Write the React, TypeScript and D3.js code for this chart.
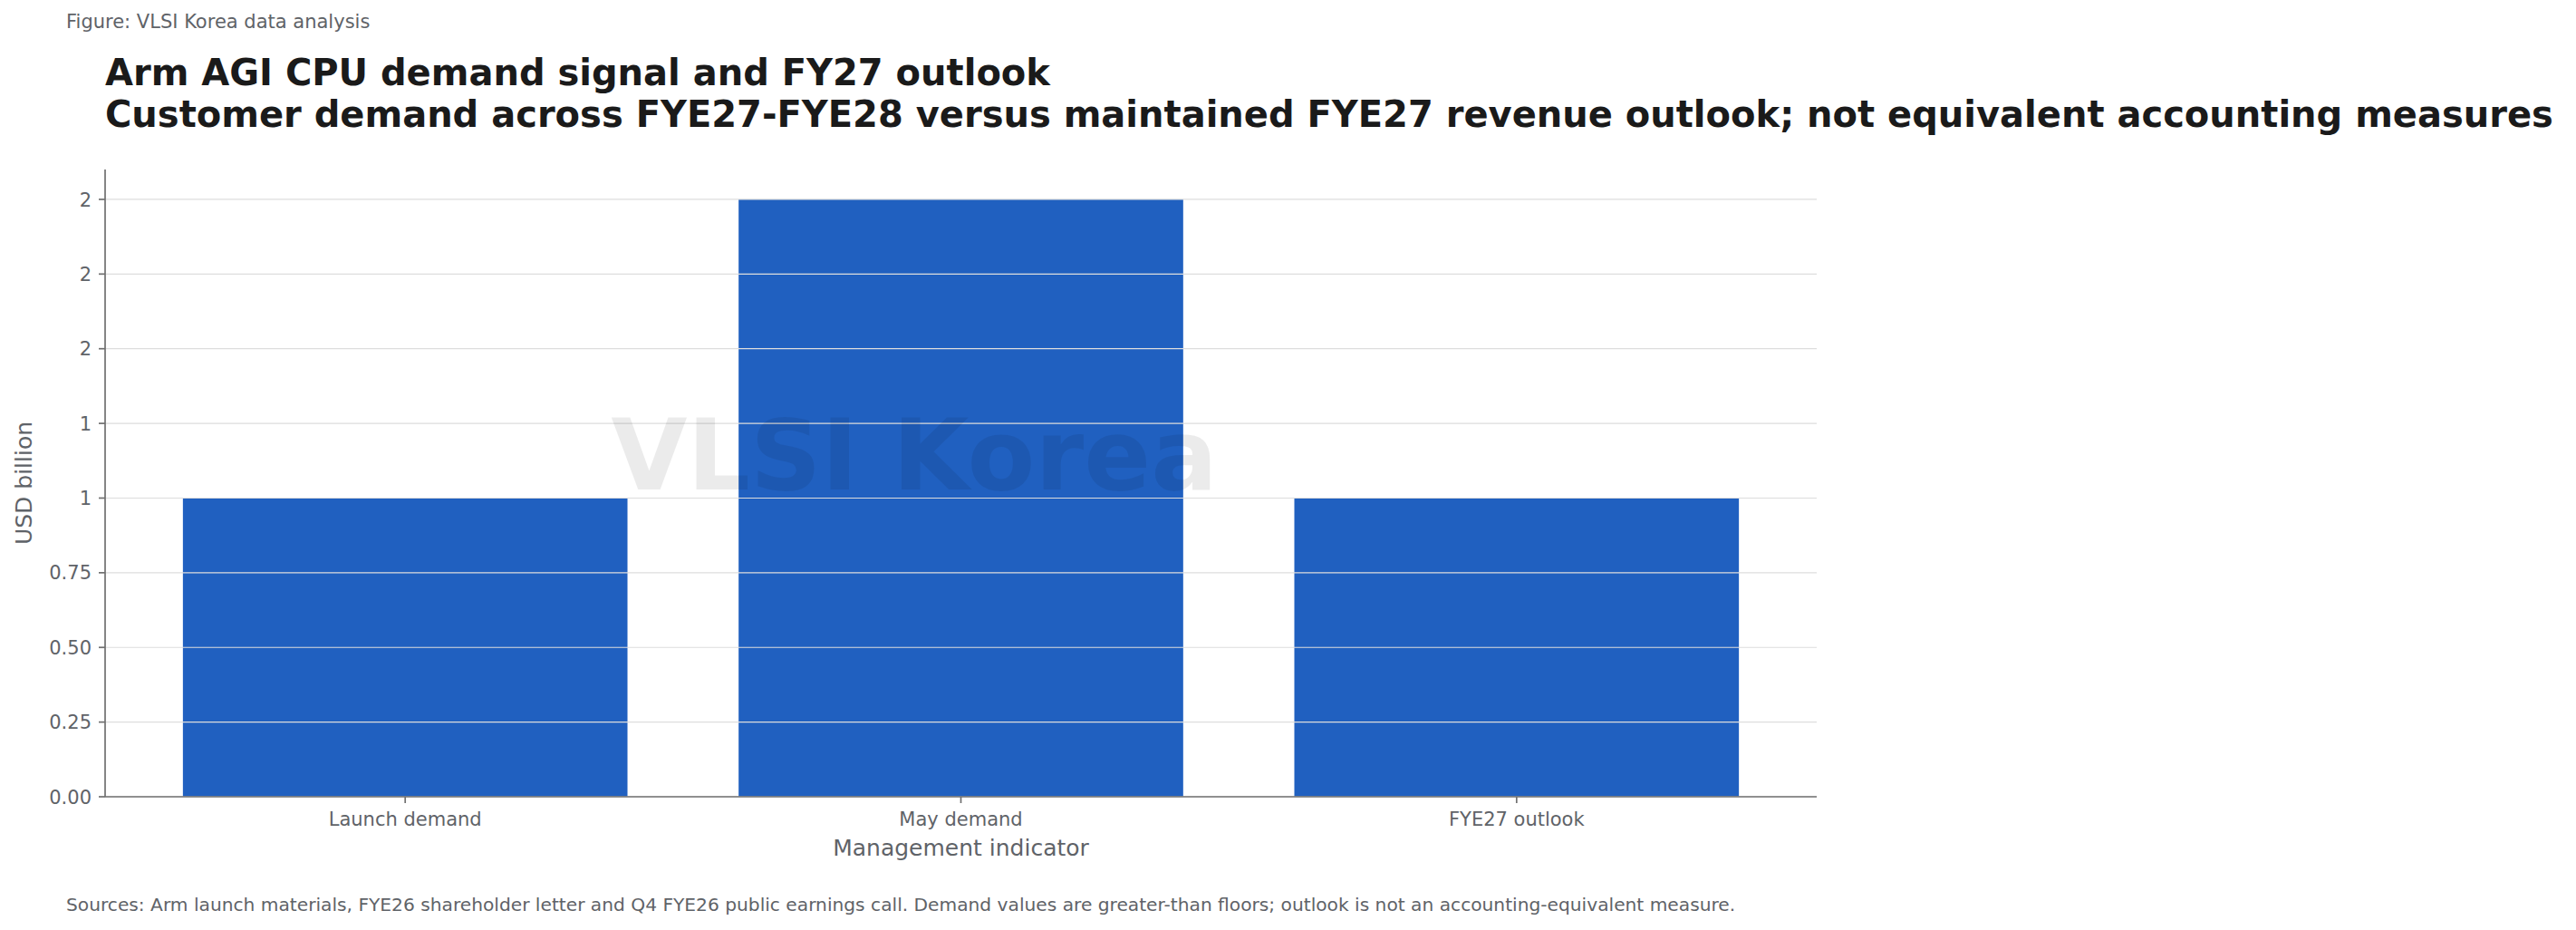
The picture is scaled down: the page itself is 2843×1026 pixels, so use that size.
import React from 'react';
import * as d3 from 'd3';

// chart values
const categories = ['Launch demand', 'May demand', 'FYE27 outlook'];
const values = [1.0, 2.0, 1.0];
const yTicks = [0, 0.25, 0.5, 0.75, 1.0, 1.25, 1.5, 1.75, 2.0];
const yTickLabels = ['0.00', '0.25', '0.50', '0.75', '1', '1', '2', '2', '2'];

const W = 2843;
const H = 1026;
const margin = { left: 116, right: 2005, top: 187, bottom: 879 };
const FONT = '"DejaVu Sans", sans-serif';
const BAR = '#2060c0';
const AXIS = '#707070';
const TEXT = '#5f6368';

const App: React.FC = () => {
  const x = d3.scaleBand<string>()
    .domain(categories)
    .range([margin.left, margin.right])
    .paddingInner(0.2)
    .paddingOuter(0.14);

  const y = d3.scaleLinear()
    .domain([0, 2.1])
    .range([margin.bottom, margin.top]);

  return (
    <svg width={W} height={H} style={{ position: 'absolute', left: 0, top: 0, background: '#fff' }}
      fontFamily={FONT}>
      <rect x={0} y={0} width={W} height={H} fill="#fff" />

      <text x={73} y={31} fontSize={21} fill={TEXT}>Figure: VLSI Korea data analysis</text>

      <text x={116} y={94} fontSize={40} fontWeight="bold" fill="#1a1a1a">
        Arm AGI CPU demand signal and FY27 outlook
      </text>
      <text x={116} y={140} fontSize={40} fontWeight="bold" fill="#1a1a1a">
        Customer demand across FYE27-FYE28 versus maintained FYE27 revenue outlook; not equivalent accounting measures
      </text>

      {/* bars */}
      {categories.map((c, i) => (
        <rect key={c} x={x(c)} y={y(values[i])} width={x.bandwidth()}
          height={y(0) - y(values[i])} fill={BAR} />
      ))}

      {/* grid, drawn above the bars as in the reference */}
      {yTicks.map((t) => (
        <line key={'g' + t} x1={margin.left} x2={margin.right} y1={y(t)} y2={y(t)}
          stroke="#dddddd" strokeWidth={1.2} />
      ))}

      {/* watermark */}
      <text x={1009} y={540} fontSize={109} fontWeight="bold" textAnchor="middle"
        fill="#000" fillOpacity={0.08}>VLSI Korea</text>

      {/* y axis */}
      <line x1={margin.left} x2={margin.left} y1={margin.top} y2={margin.bottom}
        stroke={AXIS} strokeWidth={1.7} />
      {yTicks.map((t, i) => (
        <g key={'y' + t}>
          <line x1={margin.left - 7} x2={margin.left} y1={y(t)} y2={y(t)} stroke={AXIS} strokeWidth={1.7} />
          <text x={margin.left - 15} y={y(t)} dy="0.36em" fontSize={21} fill={TEXT} textAnchor="end">
            {yTickLabels[i]}
          </text>
        </g>
      ))}
      <text transform={`translate(35, ${(margin.top + margin.bottom) / 2}) rotate(-90)`}
        fontSize={25} fill={TEXT} textAnchor="middle">USD billion</text>

      {/* x axis */}
      <line x1={margin.left} x2={margin.right} y1={margin.bottom} y2={margin.bottom}
        stroke={AXIS} strokeWidth={1.7} />
      {categories.map((c) => {
        const cx = (x(c) || 0) + x.bandwidth() / 2;
        return (
          <g key={'x' + c}>
            <line x1={cx} x2={cx} y1={margin.bottom} y2={margin.bottom + 7} stroke={AXIS} strokeWidth={1.7} />
            <text x={cx} y={911} fontSize={21} fill={TEXT} textAnchor="middle">{c}</text>
          </g>
        );
      })}
      <text x={(margin.left + margin.right) / 2} y={944} fontSize={25} fill={TEXT} textAnchor="middle">
        Management indicator
      </text>

      <text x={73} y={1005} fontSize={20.2} fill={TEXT}>
        Sources: Arm launch materials, FYE26 shareholder letter and Q4 FYE26 public earnings call. Demand values are greater-than floors; outlook is not an accounting-equivalent measure.
      </text>
    </svg>
  );
};

export default App;
